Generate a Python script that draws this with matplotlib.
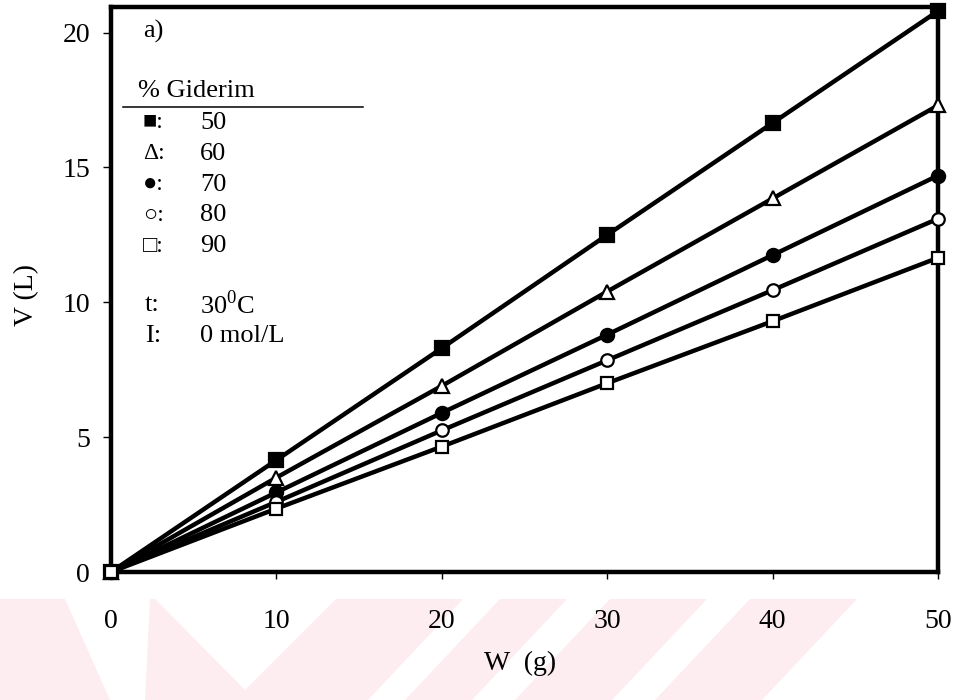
import matplotlib
matplotlib.use("Agg")
import matplotlib.pyplot as plt
from matplotlib.patches import Polygon
from matplotlib.lines import Line2D

plt.rcParams['font.family'] = ['Liberation Serif', 'DejaVu Sans']
plt.rcParams['mathtext.fontset'] = 'custom'
plt.rcParams['mathtext.rm'] = 'Liberation Serif'

W_PX, H_PX = 963, 700

# adsorbent mass (g) and treated volume (L) for each removal percentage
mass = [0, 10, 20, 30, 40, 50]
removal = ["50", "60", "70", "80", "90"]
v50 = [0, 4.15, 8.3, 12.5, 16.65, 20.8]
v60 = [0, 3.5, 6.9, 10.4, 13.85, 17.3]
v70 = [0, 2.95, 5.9, 8.8, 11.75, 14.7]
v80 = [0, 2.6, 5.25, 7.85, 10.45, 13.1]
v90 = [0, 2.35, 4.65, 7.0, 9.3, 11.65]
series = [v50, v60, v70, v80, v90]
symbols = ["■", "Δ", "●", "○", "□"]

x_ticks = [0, 10, 20, 30, 40, 50]
y_ticks = [0, 5, 10, 15, 20]

# marker style per series: (marker, size, filled)
styles = [("s", 10, True), ("^", 10, False), ("o", 9.5, True), ("o", 9, False), ("s", 9, False)]


def fx(px):
    return px / W_PX


def fy(py):
    return 1 - py / H_PX


fig = plt.figure(figsize=(W_PX / 100, H_PX / 100), dpi=100)

# faint pink stripes along the bottom edge, kept behind the axes texts
pink = "#fdecf0"
stripes = [
    [(0, 599), (65, 599), (110, 700), (0, 700)],
    [(150, 599), (155, 599), (245, 690), (245, 700), (145, 700)],
    [(245, 690), (336, 599), (463, 599), (368, 700), (245, 700)],
    [(500, 599), (567, 599), (472, 700), (405, 700)],
    [(610, 599), (707, 599), (612, 700), (515, 700)],
    [(750, 599), (857, 599), (762, 700), (655, 700)],
]
for pts in stripes:
    poly = Polygon([(fx(a), fy(b)) for a, b in pts], closed=True, transform=fig.transFigure,
                   facecolor=pink, edgecolor="none", zorder=-1)
    fig.patches.append(poly)

ax = fig.add_axes([fx(111), fy(572), fx(938) - fx(111), fy(7) - fy(572)])
ax.patch.set_alpha(0)

for vals, (m, ms, filled) in zip(series, styles):
    ax.plot(mass, vals, color="black", lw=3.2, marker=m, ms=ms,
            mfc="black" if filled else "white", mec="black", mew=1.6, clip_on=False, zorder=3)

ax.set_xlim(0, 50)
ax.set_ylim(0, 20.95)
ax.set_xticks(x_ticks)
ax.set_yticks(y_ticks)
for s in ax.spines.values():
    s.set_linewidth(3.2)
ax.tick_params(axis="y", direction="out", length=6, width=1, pad=9, labelsize=20)
ax.tick_params(axis="x", direction="out", length=5, width=1, pad=22, labelsize=20)

fig.text(fx(520), fy(663), "W  (g)", ha="center", va="center", fontsize=20)
fig.text(fx(27), fy(295), "V (L)", ha="center", va="center", rotation=90, fontsize=20)

# annotation block
fig.text(fx(143), fy(31), "a)", ha="left", va="center", fontsize=19)
fig.text(fx(138), fy(91), "% Giderim", ha="left", va="center", fontsize=19)
fig.add_artist(Line2D([fx(123), fx(363)], [fy(107), fy(107)], color="black", lw=1.1))
row_y = 123
for sym, lab in zip(symbols, removal):
    fig.text(fx(143), fy(row_y), sym + ":", ha="left", va="center", fontsize=17)
    fig.text(fx(200), fy(row_y), lab, ha="left", va="center", fontsize=19)
    row_y += 30.8
fig.text(fx(145), fy(305), "t:", ha="left", va="center", fontsize=19)
fig.text(fx(200), fy(305), "30$^0$C", ha="left", va="center", fontsize=19)
fig.text(fx(145), fy(336), "I:", ha="left", va="center", fontsize=19)
fig.text(fx(200), fy(336), "0 mol/L", ha="left", va="center", fontsize=19)

fig.savefig("out.png", dpi=100)
